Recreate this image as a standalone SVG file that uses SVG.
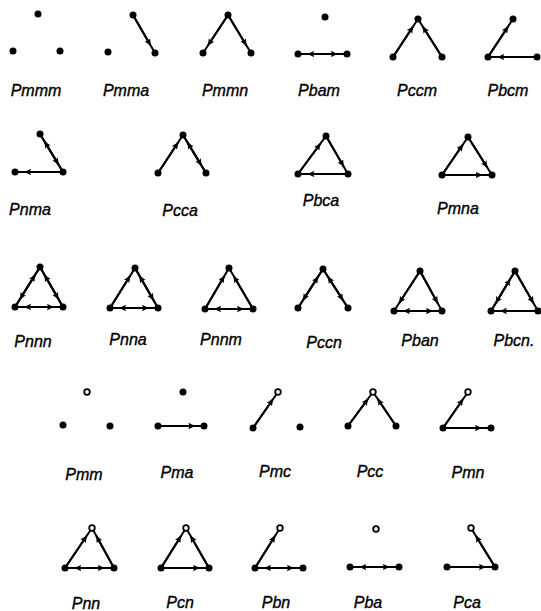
<svg xmlns="http://www.w3.org/2000/svg" width="541" height="611" viewBox="0 0 541 611">
<defs>
<marker id="ah" markerUnits="userSpaceOnUse" markerWidth="9" markerHeight="8" refX="6.5" refY="3.2" orient="auto">
<path d="M0,0 L7,3.2 L0,6.4 L1.4,3.2 Z" fill="#000"/>
</marker>
</defs>
<style>
.e{stroke:#000;stroke-width:2;fill:none;stroke-linecap:round}
.a{stroke:#000;stroke-width:2;fill:none;marker-end:url(#ah)}
.d{fill:#000}
.o{fill:#fff;stroke:#000;stroke-width:1.8}
text{font-family:"Liberation Sans",Arial,sans-serif;font-style:italic;font-size:16px;fill:#000;stroke:#000;stroke-width:0.35;text-anchor:middle}
</style>
<rect width="541" height="611" fill="#fff"/>
<g id="connectors">
<g id="c-Pmma"><line class="e" x1="133" y1="15" x2="155" y2="53"/><path class="a" d="M133,15 L150.6,45.4"/></g>
<g id="c-Pmmn"><line class="e" x1="228" y1="15" x2="203" y2="53"/><line class="e" x1="228" y1="15" x2="251" y2="53"/><path class="a" d="M228,15 L208,45.4"/><path class="a" d="M228,15 L246.4,45.4"/></g>
<g id="c-Pbam"><line class="e" x1="298" y1="54" x2="347" y2="54"/><path class="a" d="M347,54 L307.8,54"/><path class="a" d="M298,54 L337.2,54"/></g>
<g id="c-Pccm"><line class="e" x1="393" y1="57" x2="418" y2="19"/><line class="e" x1="442" y1="57" x2="418" y2="19"/><path class="a" d="M393,57 L413,26.6"/><path class="a" d="M442,57 L422.8,26.6"/></g>
<g id="c-Pbcm"><line class="e" x1="488" y1="57" x2="513" y2="19"/><line class="e" x1="488" y1="57" x2="537" y2="57"/><path class="a" d="M488,57 L508,26.6"/><path class="a" d="M537,57 L497.8,57"/></g>
<g id="c-Pnma"><line class="e" x1="40" y1="134" x2="63" y2="172"/><line class="e" x1="15" y1="172" x2="63" y2="172"/><path class="a" d="M40,134 L58.4,164.4"/><path class="a" d="M63,172 L44.6,141.6"/><path class="a" d="M63,172 L24.6,172"/></g>
<g id="c-Pcca"><line class="e" x1="158" y1="173" x2="183" y2="135"/><line class="e" x1="206" y1="173" x2="183" y2="135"/><path class="a" d="M158,173 L178,142.6"/><path class="a" d="M206,173 L187.6,142.6"/><path class="a" d="M183,135 L201.4,165.4"/></g>
<g id="c-Pbca"><line class="e" x1="298" y1="174" x2="326" y2="136"/><line class="e" x1="348" y1="174" x2="326" y2="136"/><line class="e" x1="298" y1="174" x2="348" y2="174"/><path class="a" d="M298,174 L320.4,143.6"/><path class="a" d="M326,136 L343.6,166.4"/><path class="a" d="M348,174 L308,174"/></g>
<g id="c-Pmna"><line class="e" x1="442" y1="175" x2="468" y2="137"/><line class="e" x1="492" y1="175" x2="468" y2="137"/><line class="e" x1="442" y1="175" x2="492" y2="175"/><path class="a" d="M442,175 L462.8,144.6"/><path class="a" d="M468,137 L487.2,167.4"/><path class="a" d="M442,175 L482,175"/></g>
<g id="c-Pnnn"><line class="e" x1="15" y1="307" x2="40" y2="267"/><line class="e" x1="63" y1="307" x2="40" y2="267"/><line class="e" x1="15" y1="307" x2="63" y2="307"/><path class="a" d="M15,307 L35,275"/><path class="a" d="M40,267 L20,299"/><path class="a" d="M63,307 L44.6,275"/><path class="a" d="M40,267 L58.4,299"/><path class="a" d="M15,307 L53.4,307"/><path class="a" d="M63,307 L24.6,307"/></g>
<g id="c-Pnna"><line class="e" x1="110" y1="308" x2="135" y2="268"/><line class="e" x1="158" y1="308" x2="135" y2="268"/><line class="e" x1="110" y1="308" x2="158" y2="308"/><path class="a" d="M110,308 L130,276"/><path class="a" d="M158,308 L139.6,276"/><path class="a" d="M135,268 L153.4,300"/><path class="a" d="M110,308 L148.4,308"/><path class="a" d="M158,308 L119.6,308"/></g>
<g id="c-Pnnm"><line class="e" x1="205" y1="309" x2="229" y2="268"/><line class="e" x1="253" y1="309" x2="229" y2="268"/><line class="e" x1="205" y1="309" x2="253" y2="309"/><path class="a" d="M205,309 L224.2,276.2"/><path class="a" d="M253,309 L233.8,276.2"/><path class="a" d="M205,309 L243.4,309"/><path class="a" d="M253,309 L214.6,309"/></g>
<g id="c-Pccn"><line class="e" x1="298" y1="308" x2="323" y2="269"/><line class="e" x1="348" y1="308" x2="323" y2="269"/><path class="a" d="M298,308 L318,276.8"/><path class="a" d="M323,269 L303,300.2"/><path class="a" d="M348,308 L328,276.8"/><path class="a" d="M323,269 L343,300.2"/></g>
<g id="c-Pban"><line class="e" x1="394" y1="311" x2="420" y2="271"/><line class="e" x1="442" y1="311" x2="420" y2="271"/><line class="e" x1="394" y1="311" x2="442" y2="311"/><path class="a" d="M420,271 L399.2,303"/><path class="a" d="M420,271 L437.6,303"/><path class="a" d="M394,311 L432.4,311"/><path class="a" d="M442,311 L403.6,311"/></g>
<g id="c-Pbcn"><line class="e" x1="491" y1="311" x2="515" y2="271"/><line class="e" x1="538" y1="311" x2="515" y2="271"/><line class="e" x1="491" y1="311" x2="538" y2="311"/><path class="a" d="M491,311 L510.2,279"/><path class="a" d="M515,271 L495.8,303"/><path class="a" d="M515,271 L533.4,303"/><path class="a" d="M538,311 L500.4,311"/></g>
<g id="c-Pma"><line class="e" x1="158" y1="426" x2="204" y2="426"/><path class="a" d="M158,426 L194.8,426"/></g>
<g id="c-Pmc"><line class="e" x1="253" y1="428" x2="278" y2="392"/><path class="a" d="M253,428 L273,399.2"/></g>
<g id="c-Pcc"><line class="e" x1="348" y1="426" x2="373" y2="392"/><line class="e" x1="396" y1="426" x2="373" y2="392"/><path class="a" d="M348,426 L368,398.8"/><path class="a" d="M396,426 L377.6,398.8"/></g>
<g id="c-Pmn"><line class="e" x1="443" y1="428" x2="468" y2="392"/><line class="e" x1="443" y1="428" x2="491" y2="428"/><path class="a" d="M443,428 L463,399.2"/><path class="a" d="M443,428 L481.4,428"/></g>
<g id="c-Pnn"><line class="e" x1="65" y1="568" x2="92" y2="528"/><line class="e" x1="114" y1="568" x2="92" y2="528"/><line class="e" x1="65" y1="568" x2="114" y2="568"/><path class="a" d="M65,568 L86.6,536"/><path class="a" d="M114,568 L96.4,536"/><path class="a" d="M65,568 L104.2,568"/><path class="a" d="M114,568 L74.8,568"/></g>
<g id="c-Pcn"><line class="e" x1="161" y1="568" x2="186" y2="528"/><line class="e" x1="209" y1="568" x2="186" y2="528"/><line class="e" x1="161" y1="568" x2="209" y2="568"/><path class="a" d="M161,568 L181,536"/><path class="a" d="M209,568 L190.6,536"/><path class="a" d="M161,568 L199.4,568"/></g>
<g id="c-Pbn"><line class="e" x1="255" y1="568" x2="280" y2="528"/><line class="e" x1="255" y1="568" x2="303" y2="568"/><path class="a" d="M255,568 L275,536"/><path class="a" d="M255,568 L293.4,568"/><path class="a" d="M303,568 L264.6,568"/></g>
<g id="c-Pba"><line class="e" x1="350" y1="567" x2="399" y2="567"/><path class="a" d="M350,567 L389.2,567"/><path class="a" d="M399,567 L359.8,567"/></g>
<g id="c-Pca"><line class="e" x1="495" y1="567" x2="471" y2="528"/><line class="e" x1="447" y1="567" x2="495" y2="567"/><path class="a" d="M495,567 L475.8,535.8"/><path class="a" d="M447,567 L485.4,567"/></g>
</g>
<g id="Pmmm"><circle class="d" cx="38" cy="14" r="3.5"/><circle class="d" cx="13" cy="51" r="3.5"/><circle class="d" cx="60" cy="51" r="3.5"/><text x="36" y="96">Pmmm</text></g>
<g id="Pmma"><circle class="d" cx="133" cy="15" r="3.5"/><circle class="d" cx="108" cy="52" r="3.5"/><circle class="d" cx="155" cy="53" r="3.5"/><text x="126" y="96">Pmma</text></g>
<g id="Pmmn"><circle class="d" cx="228" cy="15" r="3.5"/><circle class="d" cx="203" cy="53" r="3.5"/><circle class="d" cx="251" cy="53" r="3.5"/><text x="225" y="96">Pmmn</text></g>
<g id="Pbam"><circle class="d" cx="325" cy="17" r="3.5"/><circle class="d" cx="298" cy="54" r="3.5"/><circle class="d" cx="347" cy="54" r="3.5"/><text x="319" y="96">Pbam</text></g>
<g id="Pccm"><circle class="d" cx="418" cy="19" r="3.5"/><circle class="d" cx="393" cy="57" r="3.5"/><circle class="d" cx="442" cy="57" r="3.5"/><text x="417" y="96">Pccm</text></g>
<g id="Pbcm"><circle class="d" cx="513" cy="19" r="3.5"/><circle class="d" cx="488" cy="57" r="3.5"/><circle class="d" cx="537" cy="57" r="3.5"/><text x="508" y="96">Pbcm</text></g>
<g id="Pnma"><circle class="d" cx="40" cy="134" r="3.5"/><circle class="d" cx="15" cy="172" r="3.5"/><circle class="d" cx="63" cy="172" r="3.5"/><text x="30" y="215">Pnma</text></g>
<g id="Pcca"><circle class="d" cx="183" cy="135" r="3.5"/><circle class="d" cx="158" cy="173" r="3.5"/><circle class="d" cx="206" cy="173" r="3.5"/><text x="180" y="216">Pcca</text></g>
<g id="Pbca"><circle class="d" cx="326" cy="136" r="3.5"/><circle class="d" cx="298" cy="174" r="3.5"/><circle class="d" cx="348" cy="174" r="3.5"/><text x="321" y="206">Pbca</text></g>
<g id="Pmna"><circle class="d" cx="468" cy="137" r="3.5"/><circle class="d" cx="442" cy="175" r="3.5"/><circle class="d" cx="492" cy="175" r="3.5"/><text x="458" y="214">Pmna</text></g>
<g id="Pnnn"><circle class="d" cx="40" cy="267" r="3.5"/><circle class="d" cx="15" cy="307" r="3.5"/><circle class="d" cx="63" cy="307" r="3.5"/><text x="33" y="347">Pnnn</text></g>
<g id="Pnna"><circle class="d" cx="135" cy="268" r="3.5"/><circle class="d" cx="110" cy="308" r="3.5"/><circle class="d" cx="158" cy="308" r="3.5"/><text x="128" y="345">Pnna</text></g>
<g id="Pnnm"><circle class="d" cx="229" cy="268" r="3.5"/><circle class="d" cx="205" cy="309" r="3.5"/><circle class="d" cx="253" cy="309" r="3.5"/><text x="221" y="345">Pnnm</text></g>
<g id="Pccn"><circle class="d" cx="323" cy="269" r="3.5"/><circle class="d" cx="298" cy="308" r="3.5"/><circle class="d" cx="348" cy="308" r="3.5"/><text x="324" y="348">Pccn</text></g>
<g id="Pban"><circle class="d" cx="420" cy="271" r="3.5"/><circle class="d" cx="394" cy="311" r="3.5"/><circle class="d" cx="442" cy="311" r="3.5"/><text x="420" y="346">Pban</text></g>
<g id="Pbcn"><circle class="d" cx="515" cy="271" r="3.5"/><circle class="d" cx="491" cy="311" r="3.5"/><circle class="d" cx="538" cy="311" r="3.5"/><text x="514" y="346">Pbcn.</text></g>
<g id="Pmm"><circle class="o" cx="87" cy="392" r="2.8"/><circle class="d" cx="63" cy="425" r="3.5"/><circle class="d" cx="110" cy="426" r="3.5"/><text x="84" y="480">Pmm</text></g>
<g id="Pma"><circle class="d" cx="183" cy="392" r="3.5"/><circle class="d" cx="158" cy="426" r="3.5"/><circle class="d" cx="204" cy="426" r="3.5"/><text x="177" y="478">Pma</text></g>
<g id="Pmc"><circle class="o" cx="278" cy="392" r="2.8"/><circle class="d" cx="253" cy="428" r="3.5"/><circle class="d" cx="300" cy="427" r="3.5"/><text x="275" y="477">Pmc</text></g>
<g id="Pcc"><circle class="o" cx="373" cy="392" r="2.8"/><circle class="d" cx="348" cy="426" r="3.5"/><circle class="d" cx="396" cy="426" r="3.5"/><text x="370" y="477">Pcc</text></g>
<g id="Pmn"><circle class="o" cx="468" cy="392" r="2.8"/><circle class="d" cx="443" cy="428" r="3.5"/><circle class="d" cx="491" cy="428" r="3.5"/><text x="468" y="478">Pmn</text></g>
<g id="Pnn"><circle class="o" cx="92" cy="528" r="2.8"/><circle class="d" cx="65" cy="568" r="3.5"/><circle class="d" cx="114" cy="568" r="3.5"/><text x="86" y="609">Pnn</text></g>
<g id="Pcn"><circle class="o" cx="186" cy="528" r="2.8"/><circle class="d" cx="161" cy="568" r="3.5"/><circle class="d" cx="209" cy="568" r="3.5"/><text x="180" y="608">Pcn</text></g>
<g id="Pbn"><circle class="o" cx="280" cy="528" r="2.8"/><circle class="d" cx="255" cy="568" r="3.5"/><circle class="d" cx="303" cy="568" r="3.5"/><text x="276" y="608">Pbn</text></g>
<g id="Pba"><circle class="o" cx="376" cy="529" r="2.8"/><circle class="d" cx="350" cy="567" r="3.5"/><circle class="d" cx="399" cy="567" r="3.5"/><text x="368" y="608">Pba</text></g>
<g id="Pca"><circle class="o" cx="471" cy="528" r="2.8"/><circle class="d" cx="447" cy="567" r="3.5"/><circle class="d" cx="495" cy="567" r="3.5"/><text x="467" y="608">Pca</text></g>
</svg>
